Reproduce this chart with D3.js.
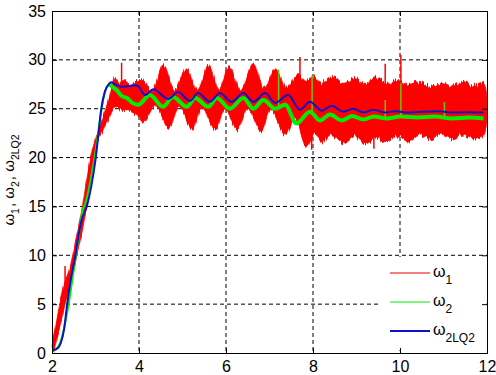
<!DOCTYPE html>
<html>
<head>
<meta charset="utf-8">
<script src="https://cdn.jsdelivr.net/npm/d3@7"></script>
<style>
  body { margin: 0; background: #fff; }
  text { font-family: "Liberation Sans", Arial, sans-serif; }
</style>
</head>
<body>
<script>
var margin = {top: 11, right: 9, bottom: 22, left: 52},
    width = 496 - margin.left - margin.right,
    height = 375 - margin.top - margin.bottom;

var xTicks = [2, 4, 6, 8, 10, 12];
var yTicks = [0, 5, 10, 15, 20, 25, 30, 35];

// red signal: upper and lower envelope of the fast oscillation [t, value]
var redHi = [[2.0,0.8],[2.08,2.6],[2.16,4.6],[2.26,6.8],[2.38,8.2],[2.48,10.1],[2.56,11.9],
    [2.66,14.0],[2.74,16.2],[2.82,18.4],[2.9,20.3],[3.0,21.9],[3.1,23.1],[3.2,24.5],[3.3,26.0],
    [3.38,27.4],[3.45,28.3],[3.55,27.8],[3.65,28.0],[3.75,27.6],[3.85,27.4],[3.95,27.8],
    [4.05,28.0],[4.3,26.8],[4.56,29.5],[4.82,27.0],[5.08,29.1],[5.34,26.9],[5.6,29.5],
    [5.84,27.0],[6.07,29.3],[6.35,26.9],[6.62,29.6],[6.88,27.0],[7.13,29.1],[7.4,27.1],
    [7.65,28.5],[7.85,27.8],[8.0,28.3],[8.2,27.6],[8.45,28.3],[8.7,27.5],[8.95,28.1],
    [9.2,27.6],[9.45,28.2],[9.7,27.6],[9.95,28.0],[10.2,27.5],[10.45,27.8],[10.7,27.3],
    [10.95,27.7],[11.2,27.3],[11.45,27.7],[11.7,27.3],[11.92,27.6]];
var redLo = [[2.04,0.0],[2.12,1.6],[2.2,3.0],[2.3,5.0],[2.42,7.0],[2.52,8.9],[2.6,10.5],
    [2.7,12.6],[2.8,15.2],[2.88,17.9],[2.96,20.0],[3.05,21.5],[3.15,22.6],[3.25,23.5],
    [3.35,24.4],[3.45,25.2],[3.55,25.0],[3.65,24.8],[3.75,24.9],[3.85,24.6],[3.95,24.4],
    [4.1,23.6],[4.38,25.3],[4.68,23.0],[4.93,25.2],[5.22,22.9],[5.45,25.1],[5.75,22.8],
    [5.98,25.0],[6.25,22.8],[6.5,25.0],[6.8,22.7],[7.03,24.9],[7.36,22.3],[7.58,24.0],
    [7.85,21.1],[8.05,22.5],[8.2,21.6],[8.45,22.3],[8.7,21.5],[8.95,22.2],[9.2,21.4],
    [9.45,22.0],[9.7,21.6],[9.95,22.2],[10.2,21.6],[10.45,22.3],[10.7,21.9],[10.95,22.4],
    [11.2,21.9],[11.45,22.3],[11.7,22.0],[11.92,22.2]];
// isolated spikes [t, from, to]
var redSpikes = [[2.3,6.0,8.9],[3.6,27.0,29.7],[7.7,27.0,30.3],[7.97,22.0,20.8],
    [9.4,22.0,20.9],[9.66,27.0,29.6],[10.02,27.0,30.5]];

var green = [[2.0,0.2],[2.1,0.4],[2.2,1.2],[2.3,3.0],[2.4,5.5],[2.5,8.5],[2.6,11.5],
    [2.7,14.5],[2.78,15.5],[2.88,17.5],[2.98,20.0],[3.06,22.5],[3.14,25.0],[3.22,26.8],
    [3.32,27.5],[3.4,27.2],[3.49,26.9],[3.6,26.3],[3.72,26.1],[3.85,25.6],[3.98,25.4],
    [4.25,26.4],[4.55,25.2],[4.78,26.2],[5.1,25.2],[5.29,26.1],[5.59,25.2],[5.79,26.1],
    [6.09,25.0],[6.4,26.1],[6.63,25.0],[6.86,25.9],[7.13,25.0],[7.36,25.4],[7.62,23.5],
    [7.93,24.7],[8.16,23.8],[8.39,24.4],[8.66,23.8],[8.9,24.25],[9.16,23.9],[9.4,24.2],
    [9.7,24.0],[10.0,24.2],[10.4,24.1],[10.8,24.2],[11.2,24.0],[11.6,24.1],[11.92,24.0]];
var greenSpikes = [[7.21,25.2,29.0],[7.98,24.6,28.4],[9.66,24.0,25.9],[10.02,24.1,27.6],
    [11.02,24.1,25.7]];

var blue = [[2.0,0.3],[2.1,0.4],[2.2,1.0],[2.28,2.5],[2.34,4.7],[2.43,7.5],[2.53,9.8],
    [2.6,11.8],[2.68,13.6],[2.8,15.0],[2.9,17.0],[3.0,19.8],[3.07,22.5],[3.13,24.9],
    [3.22,26.8],[3.3,27.5],[3.37,27.7],[3.45,27.5],[3.6,27.25],[3.75,27.3],[3.9,27.4],
    [3.98,27.3],[4.14,26.4],[4.33,27.0],[4.67,26.0],[4.9,26.7],[5.17,25.8],[5.36,26.6],
    [5.63,25.7],[5.86,26.6],[6.13,25.7],[6.4,26.6],[6.63,25.7],[6.9,26.6],[7.13,25.6],
    [7.43,26.4],[7.7,24.9],[7.93,25.7],[8.2,24.8],[8.43,25.3],[8.7,24.7],[8.93,25.0],
    [9.16,24.6],[9.39,24.9],[9.66,24.6],[9.9,24.75],[10.2,24.6],[10.5,24.7],[10.9,24.75],
    [11.2,24.6],[11.5,24.65],[11.92,24.6]];

var root = d3.select("body").append("svg")
    .attr("width", width + margin.left + margin.right)
    .attr("height", height + margin.top + margin.bottom);

// vertical-only jitter so the red band edges look like a fast oscillation
var filt = root.append("defs").append("filter")
    .attr("id", "hairy")
    .attr("x", "-2%").attr("y", "-10%")
    .attr("width", "104%").attr("height", "120%");
filt.append("feTurbulence")
    .attr("type", "fractalNoise")
    .attr("baseFrequency", "0.8 0.02")
    .attr("numOctaves", 1)
    .attr("seed", 3)
    .attr("result", "noise");
filt.append("feColorMatrix")
    .attr("in", "noise")
    .attr("type", "matrix")
    .attr("values", "0 0 0 0 0.5  0 1 0 0 0  0 0 0 0 0  0 0 0 0 1")
    .attr("result", "ynoise");
filt.append("feDisplacementMap")
    .attr("in", "SourceGraphic")
    .attr("in2", "ynoise")
    .attr("scale", 9)
    .attr("xChannelSelector", "R")
    .attr("yChannelSelector", "G");

var svg = root.append("g")
    .attr("transform", "translate(" + margin.left + "," + margin.top + ")");

var x = d3.scaleLinear().domain([2, 12]).range([0, width]);
var y = d3.scaleLinear().domain([0, 35]).range([height, 0]);

// grid
svg.selectAll(".vgrid")
    .data(xTicks.slice(1, -1))
    .enter().append("line")
    .attr("x1", function(d) { return x(d); })
    .attr("x2", function(d) { return x(d); })
    .attr("y1", 0).attr("y2", height)
    .attr("stroke", "#000").attr("stroke-dasharray", "4,3");
svg.selectAll(".hgrid")
    .data(yTicks.slice(1, -1))
    .enter().append("line")
    .attr("x1", 0).attr("x2", width)
    .attr("y1", function(d) { return y(d); })
    .attr("y2", function(d) { return y(d); })
    .attr("stroke", "#000").attr("stroke-dasharray", "4,3");

var band = d3.line()
    .x(function(d) { return x(d[0]); })
    .y(function(d) { return y(d[1]); })
    .curve(d3.curveCatmullRom.alpha(0.5));
var smooth = d3.line()
    .x(function(d) { return x(d[0]); })
    .y(function(d) { return y(d[1]); })
    .curve(d3.curveMonotoneX);

// red band
svg.append("path")
    .attr("d", band(redHi.concat(redLo.slice().reverse())) + "Z")
    .attr("fill", "#ff0000")
    .attr("stroke", "#ff0000")
    .attr("stroke-width", 0.8)
    .attr("filter", "url(#hairy)");
svg.selectAll(".rspike")
    .data(redSpikes)
    .enter().append("line")
    .attr("x1", function(d) { return x(d[0]); })
    .attr("x2", function(d) { return x(d[0]); })
    .attr("y1", function(d) { return y(d[1]); })
    .attr("y2", function(d) { return y(d[2]); })
    .attr("stroke", "#ff0000").attr("stroke-width", 1.5);

// green
var riseEnd = 15;
svg.append("path")
    .attr("d", smooth(green.slice(0, riseEnd)))
    .attr("fill", "none").attr("stroke", "#00ee00").attr("stroke-width", 2);
svg.append("path")
    .attr("d", smooth(green.slice(riseEnd - 1)))
    .attr("fill", "none").attr("stroke", "#00ee00").attr("stroke-width", 4);
svg.selectAll(".gspike")
    .data(greenSpikes)
    .enter().append("line")
    .attr("x1", function(d) { return x(d[0]); })
    .attr("x2", function(d) { return x(d[0]); })
    .attr("y1", function(d) { return y(d[1]); })
    .attr("y2", function(d) { return y(d[2]); })
    .attr("stroke", "#6cc400").attr("stroke-width", 1.5);

// blue
svg.append("path")
    .attr("d", smooth(blue))
    .attr("fill", "none").attr("stroke", "#1010c8").attr("stroke-width", 2);

// legend
var legendItems = [
    {name: "1", color: "#e00000", w: 1},
    {name: "2", color: "#00ee00", w: 1},
    {name: "2LQ2", color: "#1010c8", w: 2}];
var lx = 380 - margin.left, ly = 257 - margin.top;
svg.append("rect")
    .attr("x", lx).attr("y", ly)
    .attr("width", 104).attr("height", 93)
    .attr("fill", "#fff");
legendItems.forEach(function(d, i) {
    var yy = ly + 16 + i * 29;
    svg.append("line")
        .attr("x1", lx + 10).attr("x2", lx + 50)
        .attr("y1", yy).attr("y2", yy)
        .attr("stroke", d.color).attr("stroke-width", d.w);
    var t = svg.append("text")
        .attr("x", lx + 53).attr("y", yy + 4)
        .style("font-size", "16px");
    t.append("tspan").text("ω");
    t.append("tspan").attr("dy", 7).style("font-size", "12px").text(d.name);
});

// axes
var xAxis = d3.axisBottom(x).tickValues(xTicks).tickSize(-5).tickPadding(8)
    .tickFormat(d3.format("d"));
var yAxis = d3.axisLeft(y).tickValues(yTicks).tickSize(-5).tickPadding(6)
    .tickFormat(d3.format("d"));

svg.append("g").attr("transform", "translate(0," + height + ")").call(xAxis);
svg.append("g").call(yAxis);
svg.append("g").call(d3.axisTop(x).tickValues(xTicks).tickSize(-5).tickFormat(""));
svg.append("g").attr("transform", "translate(" + width + ",0)")
    .call(d3.axisRight(y).tickValues(yTicks).tickSize(-5).tickFormat(""));

svg.selectAll(".domain").attr("stroke", "#000");
svg.selectAll(".tick line").attr("stroke", "#000");
svg.selectAll(".tick text")
    .style("font-size", "16px")
    .style("font-family", "'Liberation Sans', Arial, sans-serif")
    .attr("fill", "#000");

// y label
var yl = svg.append("text")
    .attr("transform", "translate(" + (14 - margin.left) + "," + (180 - margin.top) + ") rotate(-90)")
    .attr("text-anchor", "middle")
    .style("font-size", "15px");
yl.append("tspan").text("ω");
yl.append("tspan").attr("dy", 5).style("font-size", "10.5px").text("1");
yl.append("tspan").attr("dy", -5).attr("dx", 1).text(", ω");
yl.append("tspan").attr("dy", 5).style("font-size", "10.5px").text("2");
yl.append("tspan").attr("dy", -5).attr("dx", 1).text(", ω");
yl.append("tspan").attr("dy", 5).style("font-size", "10.5px").text("2LQ2");
</script>
</body>
</html>
